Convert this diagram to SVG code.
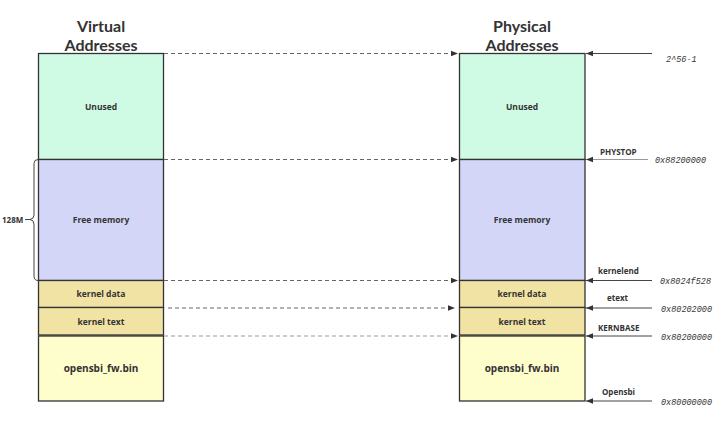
<svg xmlns="http://www.w3.org/2000/svg" width="722" height="424" viewBox="0 0 722 424">
<style>
.title{font-family:Lato,"Open Sans",sans-serif;font-weight:bold;font-size:16px;fill:#333;text-anchor:middle}
.blk{stroke:#333;stroke-width:1.3}
.lbl{font-family:"Open Sans","Noto Sans",sans-serif;font-weight:bold;font-size:8.5px;fill:#333;text-anchor:middle}
.lbl2{font-family:"Open Sans","Noto Sans",sans-serif;font-weight:bold;font-size:10px;fill:#333;text-anchor:middle}
.side{font-family:"Open Sans","Noto Sans",sans-serif;font-weight:bold;font-size:8px;fill:#333}
.addr{font-family:"Liberation Mono",monospace;font-style:italic;font-size:8.5px;fill:#333}
.dash{stroke:#666;stroke-width:1;stroke-dasharray:4 3;fill:none}
.ptr{stroke:#444;stroke-width:1;fill:none}
</style>
<defs>
<marker id="ah" viewBox="0 0 10 10" refX="10" refY="5" markerWidth="7" markerHeight="7" orient="auto" markerUnits="userSpaceOnUse">
<path d="M0,1 L10,5 L0,9 z" fill="#333"/>
</marker>
</defs>
<g id="titles">
<text class="title" x="101" y="32">Virtual</text>
<text class="title" x="101" y="51">Addresses</text>
<text class="title" x="522" y="32">Physical</text>
<text class="title" x="522" y="51">Addresses</text>
</g>
<g id="virtual">
<g id="v-unused"><rect class="blk" x="38.5" y="53.5" width="125" height="106" fill="#cffbe5"/><text class="lbl" x="101" y="110">Unused</text></g>
<g id="v-free"><rect class="blk" x="38.5" y="159.5" width="125" height="121" fill="#d3d6f7"/><text class="lbl" x="101" y="223">Free memory</text></g>
<g id="v-kdata"><rect class="blk" x="38.5" y="280.5" width="125" height="27" fill="#f1e3a4"/><text class="lbl" x="101" y="297">kernel data</text></g>
<g id="v-ktext"><rect class="blk" x="38.5" y="307.5" width="125" height="27.5" fill="#f1e3a4"/><text class="lbl" x="101" y="324.5">kernel text</text></g>
<g id="v-opensbi"><rect class="blk" x="38.5" y="336" width="125" height="65" fill="#fefdcc"/><text class="lbl2" x="101" y="372">opensbi_fw.bin</text></g>
</g>
<g id="physical">
<g id="p-unused"><rect class="blk" x="459.5" y="53.5" width="125.5" height="106" fill="#cffbe5"/><text class="lbl" x="522" y="110">Unused</text></g>
<g id="p-free"><rect class="blk" x="459.5" y="159.5" width="125.5" height="121" fill="#d3d6f7"/><text class="lbl" x="522" y="223">Free memory</text></g>
<g id="p-kdata"><rect class="blk" x="459.5" y="280.5" width="125.5" height="27" fill="#f1e3a4"/><text class="lbl" x="522" y="297">kernel data</text></g>
<g id="p-ktext"><rect class="blk" x="459.5" y="307.5" width="125.5" height="27.5" fill="#f1e3a4"/><text class="lbl" x="522" y="324.5">kernel text</text></g>
<g id="p-opensbi"><rect class="blk" x="459.5" y="336" width="125.5" height="65" fill="#fefdcc"/><text class="lbl2" x="522" y="372">opensbi_fw.bin</text></g>
</g>
<g id="brace">
<path d="M38,159.5 Q34,159.5 34,163.5 L34,215 Q34,219 30,219.5 Q34,220 34,224 L34,276 Q34,280.5 38,280.5" fill="none" stroke="#444" stroke-width="1"/>
<line x1="25" y1="219.5" x2="30" y2="219.5" stroke="#444" stroke-width="1"/>
<text class="side" x="2" y="222.5">128M</text>
</g>
<g id="connectors">
<line class="dash" x1="164" y1="53.5" x2="458" y2="53.5" marker-end="url(#ah)"/>
<line class="dash" x1="164" y1="159.5" x2="458" y2="159.5" marker-end="url(#ah)"/>
<line class="dash" x1="164" y1="280.5" x2="458" y2="280.5" marker-end="url(#ah)"/>
<line class="dash" x1="168" y1="308" x2="455" y2="308" marker-end="url(#ah)" style="stroke:#999;stroke-width:1.3"/>
<line class="dash" x1="164" y1="336" x2="458" y2="336" marker-end="url(#ah)" style="stroke:#999"/>
<line class="ptr" x1="652" y1="53.5" x2="586" y2="53.5" marker-end="url(#ah)"/>
<line class="ptr" x1="648" y1="159.5" x2="586" y2="159.5" marker-end="url(#ah)" style="stroke:#999"/>
<line class="ptr" x1="652" y1="280.5" x2="586" y2="280.5" marker-end="url(#ah)"/>
<line class="ptr" x1="652" y1="308" x2="586" y2="308" marker-end="url(#ah)"/>
<line class="ptr" x1="652" y1="336" x2="586" y2="336" marker-end="url(#ah)"/>
<line class="ptr" x1="652" y1="401" x2="586" y2="401" marker-end="url(#ah)"/>
</g>
<g id="labels">
<text class="addr" x="666" y="62">2^56-1</text>
<text class="side" x="600" y="155">PHYSTOP</text>
<text class="addr" x="655" y="162.5">0x88200000</text>
<text class="side" x="598" y="274">kernelend</text>
<text class="addr" x="660" y="283.5">0x8024f528</text>
<text class="side" x="607" y="301">etext</text>
<text class="addr" x="661" y="312">0x80202000</text>
<text class="side" x="598" y="331">KERNBASE</text>
<text class="addr" x="661" y="340">0x80200000</text>
<text class="side" x="602" y="395">Opensbi</text>
<text class="addr" x="661" y="405">0x80000000</text>
</g>
</svg>
